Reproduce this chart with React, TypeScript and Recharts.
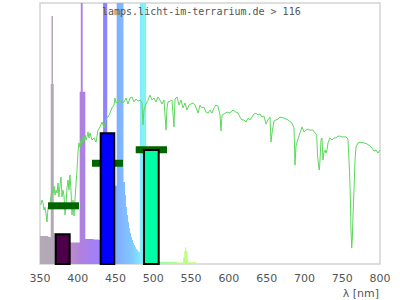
import React from 'react';
import {
  ComposedChart,
  Area,
  Line,
  XAxis,
  YAxis,
  ReferenceArea,
  ReferenceLine
} from 'recharts';

const ticks = [350, 400, 450, 500, 550, 600, 650, 700, 750, 800];

// lamp spectrum [nm, relative intensity], drawn as steps (line peaks run off the top)
const lamp = [
  [350, 10.7], [361, 10.3], [364.2, 69], [365.2, 95], [367.2, 69], [368.2, 11.8],
  [371, 10], [381, 9], [390, 8.2], [402.5, 66], [404, 100], [406.5, 66], [410, 9.6],
  [421, 9.4], [428, 9.2], [433.5, 100], [439, 30], [451.5, 100], [460.5, 31.4],
  [462.5, 26.4], [463.8, 21.8], [465.1, 18.8], [466.5, 16.1], [467.8, 13.8], [469.1, 11.9],
  [470.4, 10.3], [471.8, 9.2], [473.1, 8], [474.4, 7.3], [475.7, 6.5], [477.1, 5.7],
  [478.4, 5.4], [479.7, 4.8], [481, 4.6], [482.2, 100], [490.5, 20], [507, 0.9],
  [531, 0.6], [539.5, 2.5], [541, 5], [542, 6.4], [543.5, 5], [545, 2], [546, 0.7],
  [557, 0], [800, 0]
];

// sunlight reference spectrum [nm, relative]
const sun = [
  [351, 22.6], [352.6, 24.5], [354, 23.4], [355.3, 20.7], [356.6, 21.8], [357.9, 19.2],
  [359.3, 16.1], [360.6, 21.5], [361.9, 22.2], [363.2, 23.0], [364.6, 26.1], [365.9, 28.3],
  [367.2, 27.2], [368.5, 29.9], [369.9, 26.4], [371.2, 28.3], [372.5, 27.2], [373.8, 31.0],
  [375.1, 25.7], [376.5, 30.3], [377.8, 33.3], [379.1, 25.7], [380.4, 28.3], [381.8, 26.1],
  [383.1, 18.8], [384.4, 22.6], [385.7, 29.1], [387.1, 32.2], [388.4, 28.3], [389.7, 34.1],
  [391, 28.3], [392.4, 18.8], [393.7, 24.5], [395, 18.4], [396.3, 24.5], [397.6, 30.3],
  [399, 36.0], [400.3, 42.9], [401.6, 46.4], [402.9, 44.8], [404.3, 47.5], [405.6, 46.4],
  [406.9, 48.7], [408.2, 47.1], [409.6, 49.4], [410.9, 47.5], [412.2, 48.7], [413.5, 50.6],
  [414.9, 48.3], [416.2, 50.2], [418.8, 47.5], [421.5, 48.3], [424.1, 46.7], [426.8, 51.3],
  [429.4, 52.5], [432.1, 54.4], [434.7, 52.1], [437.4, 55.9], [440, 56.3], [442.6, 57.8],
  [445.3, 59.8], [447.9, 60.9], [449.3, 63.6], [450.6, 61.7], [453.2, 62.4], [455.9, 62.8],
  [458.5, 61.7], [461.2, 62.1], [463.8, 63.6], [466.5, 61.3], [469.1, 63.6], [471.8, 64.0],
  [474.4, 62.1], [477.1, 63.2], [479.7, 62.4], [482.4, 62.8], [485, 61.7], [486.3, 53.3],
  [487.6, 59.0], [490.3, 61.3], [492.9, 62.8], [495.6, 64.7], [498.2, 62.8], [500.9, 63.6],
  [503.5, 62.1], [506.2, 64.0], [508.8, 62.8], [511.5, 61.3], [514.1, 62.8], [516.8, 51.3],
  [518.1, 59.8], [519.4, 62.1], [522.1, 62.4], [524.7, 62.8], [527.3, 52.5], [528.7, 63.2],
  [531.3, 64.0], [534, 60.9], [536.6, 62.8], [539.3, 59.8], [541.9, 61.7], [544.5, 59.0],
  [547.2, 60.9], [549.8, 61.3], [552.5, 61.7], [555.1, 60.9], [557.8, 59.0], [559.1, 57.8],
  [561.8, 60.9], [564.4, 59.8], [567.1, 60.1], [569.7, 58.2], [572.3, 57.8], [575, 59.0],
  [577.6, 57.8], [580.3, 59.8], [582.9, 60.9], [585.6, 60.5], [588.2, 57.1], [589.6, 51.0],
  [590.9, 57.1], [593.5, 57.5], [597.5, 58.2], [601.5, 57.8], [605.4, 59.0], [609.4, 58.2],
  [612.1, 57.8], [614.7, 56.3], [617.3, 55.2], [620, 55.2], [622.6, 54.4], [625.3, 55.9],
  [627.9, 55.2], [630.6, 56.3], [633.2, 57.5], [635.9, 57.8], [638.5, 57.1], [641.2, 57.5],
  [643.8, 56.3], [646.4, 56.7], [649.1, 53.6], [651.7, 55.2], [654.4, 56.3], [655.7, 46.7],
  [657.1, 50.2], [659.7, 54.8], [662.3, 55.2], [665, 55.5], [667.6, 56.3], [672.9, 55.9],
  [678.2, 55.2], [683.5, 54.0], [686.2, 52.1], [687.5, 37.9], [688.8, 45.2], [691.5, 47.9],
  [694.1, 50.2], [696.8, 52.5], [699.4, 50.6], [702.1, 51.3], [704.7, 51.7], [707.3, 51.3],
  [711.3, 51.3], [714, 50.2], [716.2, 49.4], [717.3, 41.8], [718.6, 37.9], [719.7, 36.0],
  [720.6, 39.8], [721.9, 47.5], [723.2, 48.3], [724.5, 39.8], [725.9, 42.9], [727.2, 43.7],
  [728.5, 42.5], [729.8, 43.7], [731.2, 46.4], [733.8, 48.3], [736.5, 47.5], [739.1, 48.3],
  [741.8, 48.3], [744.4, 49.0], [747.1, 49.0], [749.7, 48.7], [752.3, 48.7], [755, 48.7],
  [757.6, 47.9], [759.6, 36.0], [760.7, 26.4], [761.6, 13.0], [762.5, 6.1], [763.3, 9.2],
  [764.3, 18.8], [765.6, 28.3], [766.9, 39.8], [768.2, 44.8], [770.9, 46.4], [773.5, 46.7],
  [778.8, 46.4], [782.8, 46.0], [786.8, 45.2], [789.4, 44.4], [792, 43.3], [794.7, 43.7],
  [797.3, 42.5], [800, 43.7]
];

// measured bins
const binFrom = [370.8, 430.3, 487.6];
const binTo = [389.3, 448.3, 507.1];
const binValue = [11.4, 50.1, 43.7];
const binColor = ['#4b0049', '#0000ff', '#00ffa6'];

// target levels
const targetFrom = [360.6, 418.8, 476.7];
const targetTo = [401.6, 459.8, 518.1];
const targetValue = [22.3, 38.6, 43.8];

// colour of the lamp fill along the wavelength axis
const specStops = [
  [350, '#b3aab6'], [368, '#b3a8b6'], [390, '#b98fc8'], [404, '#b080e0'],
  [426, '#a080fa'], [436, '#9080ff'], [453, '#80b0ff'], [471, '#80c8ff'],
  [485, '#80f0ff'], [507, '#90ffb0'], [530, '#b0ff80'], [552, '#c0ff78'], [800, '#ffd080']
];

const lampData = lamp.map(([nm, v]) => ({ nm, v }));
const sunData = sun.map(([nm, v]) => ({ nm, v }));

export default function App() {
  return (
    <div style={{ position: 'absolute', left: 0, top: 0, width: 400, height: 300, background: '#fff' }}>
      <ComposedChart width={400} height={300} margin={{ top: 3, right: 20, bottom: 0, left: 40 }}>
        <defs>
          <linearGradient id="spec" x1="0" y1="0" x2="1" y2="0">
            {specStops.map(([nm, c]) => (
              <stop key={nm} offset={((nm as number) - 350) / 450} stopColor={c as string} />
            ))}
          </linearGradient>
        </defs>
        <XAxis
          type="number"
          dataKey="nm"
          domain={[350, 800]}
          ticks={ticks}
          interval={0}
          allowDataOverflow
          axisLine={false}
          tickLine={false}
          tickMargin={4}
          height={36}
          tick={{ fontSize: 11, fill: '#555', fontFamily: 'DejaVu Sans' }}
        />
        <YAxis hide domain={[0, 100]} allowDataOverflow />
        <ReferenceArea x1={350} x2={800} y1={0} y2={100} fill="none" stroke="#d3d3d3" strokeWidth={1.5} />
        <Area
          data={lampData}
          dataKey="v"
          type="stepAfter"
          stroke="none"
          fill="url(#spec)"
          fillOpacity={1}
          isAnimationActive={false}
        />
        <Line
          data={sunData}
          dataKey="v"
          type="linear"
          stroke="#5cd85c"
          strokeWidth={1}
          dot={false}
          isAnimationActive={false}
          zIndex={450}
        />
        {targetFrom.map((f, i) => (
          <ReferenceLine
            key={'t' + i}
            segment={[{ x: f, y: targetValue[i] }, { x: targetTo[i], y: targetValue[i] }]}
            stroke="#006400"
            strokeWidth={7}
            zIndex={500}
          />
        ))}
        {binFrom.map((f, i) => (
          <ReferenceArea
            key={'b' + i}
            x1={f}
            x2={binTo[i]}
            y1={0}
            y2={binValue[i]}
            fill={binColor[i]}
            fillOpacity={1}
            stroke="#000"
            strokeWidth={2}
            zIndex={520}
          />
        ))}
      </ComposedChart>
      <div
        style={{
          position: 'absolute', left: 102, top: 6.5, fontSize: 10, lineHeight: '10px',
          fontFamily: 'DejaVu Sans Mono', color: '#555', whiteSpace: 'pre'
        }}
      >
        lamps.licht-im-terrarium.de &gt; 116
      </div>
      <div
        style={{
          position: 'absolute', right: 21, top: 287.7, fontSize: 11, lineHeight: '11px',
          fontFamily: 'DejaVu Sans', color: '#555', whiteSpace: 'pre'
        }}
      >
        λ [nm]
      </div>
    </div>
  );
}
